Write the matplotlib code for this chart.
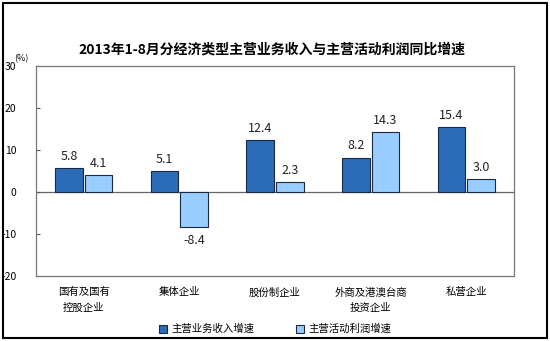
import matplotlib.pyplot as plt
from matplotlib.patches import Rectangle
import numpy as np

plt.rcParams['font.family'] = ['Noto Sans CJK SC', 'DejaVu Sans']

categories = ["国有及国有\n控股企业", "集体企业", "股份制企业", "外商及港澳台商\n投资企业", "私营企业"]
revenue = [5.8, 5.1, 12.4, 8.2, 15.4]
profit = [4.1, -8.4, 2.3, 14.3, 3.0]
series_names = ["主营业务收入增速", "主营活动利润增速"]
yticks = [-20, -10, 0, 10, 20, 30]

fig = plt.figure(figsize=(5.5, 3.41), dpi=100)
ax = fig.add_axes([0.0655, 0.19, 0.869, 0.617])

x = np.arange(len(categories))
w = 0.29
b1 = ax.bar(x - w / 2 - 0.01, revenue, w, color="#2B6CB8", edgecolor="#1a2a44", linewidth=0.8,
            label=series_names[0])
b2 = ax.bar(x + w / 2 + 0.01, profit, w, color="#99CCFF", edgecolor="#1a2a44", linewidth=0.8,
            label=series_names[1])

# value labels
for bars, vals in ((b1, revenue), (b2, profit)):
    for r, v in zip(bars, vals):
        cx = r.get_x() + r.get_width() / 2
        if v >= 0:
            ax.text(cx, v + 1.2, f"{v:.1f}", ha="center", va="bottom", fontsize=9, color="#222222")
        else:
            ax.text(cx, v - 1.5, f"{v:.1f}", ha="center", va="top", fontsize=9, color="#222222")

ax.axhline(0, color="#666666", linewidth=0.9, zorder=0)
ax.set_xlim(-0.5, 4.5)
ax.set_ylim(-20, 30)
ax.set_yticks(yticks)
ax.set_yticklabels([str(t) for t in yticks], fontsize=7.5)
ax.tick_params(axis="y", direction="in", length=3, pad=14, color="#555555")
ax.tick_params(axis="x", length=0, pad=8)
ax.set_xticks(x)
ax.set_xticklabels(categories, fontsize=7.5, linespacing=1.6, va="top")
for s in ax.spines.values():
    s.set_color("#777777")
    s.set_linewidth(0.9)

ax.text(-0.045, 1.035, "(%)", transform=ax.transAxes, fontsize=6.5, ha="left", va="center")
fig.text(0.495, 0.855, "2013年1-8月分经济类型主营业务收入与主营活动利润同比增速",
         ha="center", va="center", fontsize=10, fontweight="bold")

fig.legend(handles=[b1, b2], loc="center", bbox_to_anchor=(0.5, 0.035), ncol=2, frameon=False,
           fontsize=7.5, handlelength=0.8, handleheight=0.8, columnspacing=4, handletextpad=0.4)

fig.patches.append(Rectangle((0.005, 0.008), 0.99, 0.984, transform=fig.transFigure,
                             fill=False, edgecolor="black", linewidth=1.5))

fig.savefig("out.png", dpi=100)
